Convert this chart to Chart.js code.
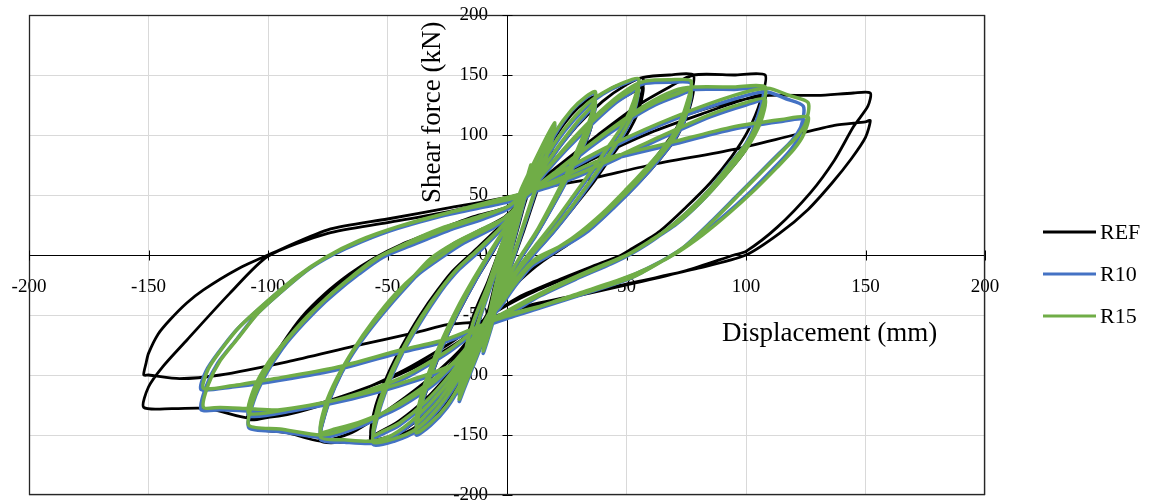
<!DOCTYPE html>
<html>
<head>
<meta charset="utf-8">
<script src="https://cdn.jsdelivr.net/npm/chart.js@4/dist/chart.umd.min.js"></script>
<style>
  html, body { margin: 0; padding: 0; background: #fff; }
  canvas { display: block; }
</style>
</head>
<body>
<canvas id="hysteresis-chart" width="1149" height="502"></canvas>
<script>
// series names + tick values
const seriesNames = ['REF', 'R10', 'R15'];
const dispTicks = [-200, -150, -100, -50, 0, 50, 100, 150, 200];
const forceTicks = [-200, -150, -100, -50, 0, 50, 100, 150, 200];

const refCurve = [
  [0,0],[3,22],[5,35],
  [3,15],[0,-8],[-3,-22],[-5,-35],
  [-2,-8],[2,18],[5,40],[8,55],[10,65],
  [8,48],[5,25],[1,-3],[-3,-30],[-6,-50],[-10,-70],
  [-7,-45],[-3,-12],[2,22],[6,45],[10,60],
  [7,40],[3,12],[0,-12],[-4,-38],[-7,-55],[-10,-65],
  [-7,-40],[-3,-8],[2,28],[6,52],[12,75],[17,92],[20,100],
  [17,78],[12,50],[7,20],[2,-8],[-3,-35],[-8,-58],[-14,-85],[-18,-102],[-20,-110],
  [-17,-85],[-12,-52],[-6,-18],[0,15],[5,42],[10,65],[15,83],[20,95],
  [16,72],[11,45],[6,16],[1,-12],[-5,-44],[-10,-62],[-15,-85],[-20,-105],
  [-18,-80],[-14,-50],[-8,-22],[-2,10],[4,38],[8,52],[14,76],[20,98],[27,117],[33,128],[37,132],
  [35,110],[31,90],[26,68],[20,45],[13,20],[6,-2],[0,-22],[-5,-40],[-10,-55],[-14,-80],[-19,-103],[-25,-123],[-31,-137],[-37,-145],
  [-35,-122],[-31,-98],[-26,-72],[-20,-47],[-13,-21],[-6,2],[0,24],[5,40],[8,52],[15,70],[22,90],[29,107],[34,119],[37,125],
  [35,105],[31,85],[25,62],[19,40],[12,16],[5,-5],[-1,-25],[-6,-43],[-10,-55],[-15,-76],[-21,-98],[-27,-117],[-33,-131],[-37,-138],
  [-35,-116],[-31,-92],[-26,-68],[-20,-44],[-13,-19],[-6,4],[0,25],[5,40],[8,52],[15,78],[24,104],[33,124],[42,137],[50,144],[57,147],
  [55,126],[50,106],[43,85],[35,62],[27,40],[19,20],[11,2],[4,-15],[-3,-38],[-10,-55],[-15,-80],[-22,-106],[-30,-128],[-38,-143],[-47,-152],[-57,-155],
  [-55,-132],[-51,-108],[-46,-85],[-39,-60],[-31,-35],[-23,-14],[-14,3],[-5,20],[3,36],[8,52],[16,70],[26,92],[36,112],[46,128],[53,136],[57,140],
  [55,120],[50,100],[43,80],[36,60],[28,40],[19,18],[11,0],[4,-18],[-3,-38],[-10,-55],[-16,-76],[-24,-98],[-34,-120],[-45,-138],[-52,-146],[-57,-150],
  [-55,-126],[-50,-100],[-44,-76],[-37,-52],[-29,-29],[-21,-10],[-12,6],[-3,24],[4,38],[8,52],[17,78],[28,105],[40,128],[50,142],[57,148],[68,150],[78,150],
  [76,128],[71,106],[64,86],[56,66],[47,45],[36,25],[25,8],[15,-5],[6,-20],[-3,-40],[-10,-55],[-16,-82],[-25,-110],[-35,-133],[-45,-148],[-57,-155],[-68,-156],[-78,-155],
  [-76,-132],[-72,-110],[-66,-86],[-58,-62],[-49,-40],[-40,-20],[-32,-4],[-22,10],[-10,22],[0,33],[8,52],[20,70],[35,95],[50,115],[63,130],[73,137],[78,140],
  [76,120],[71,98],[64,80],[56,62],[46,42],[35,22],[23,6],[13,-4],[4,-20],[-3,-40],[-10,-55],[-18,-78],[-30,-103],[-45,-125],[-60,-140],[-72,-147],[-78,-150],
  [-76,-127],[-71,-104],[-64,-80],[-56,-57],[-47,-35],[-37,-15],[-28,-2],[-18,11],[-6,24],[2,37],[8,52],[20,72],[38,100],[55,125],[68,140],[78,150],[95,150],[108,150],
  [106,128],[101,104],[94,82],[85,60],[75,40],[64,20],[52,5],[45,-3],[30,-15],[12,-30],[0,-42],[-10,-55],[-20,-80],[-35,-107],[-52,-132],[-65,-148],[-78,-155],[-92,-148],[-108,-143],
  [-106,-120],[-101,-97],[-94,-74],[-86,-52],[-76,-32],[-66,-16],[-56,-3],[-44,9],[-30,20],[-14,32],[0,40],[8,52],[20,62],[36,80],[60,102],[85,120],[100,130],[108,133],
  [106,112],[100,88],[92,68],[81,45],[70,25],[58,10],[48,0],[35,-10],[20,-22],[5,-35],[-3,-45],[-10,-55],[-20,-72],[-40,-95],[-65,-115],[-90,-130],[-108,-137],
  [-106,-115],[-100,-92],[-93,-72],[-84,-50],[-74,-30],[-63,-14],[-52,0],[-40,10],[-25,22],[-10,33],[0,40],[8,52],[25,72],[45,92],[65,110],[85,123],[100,130],[110,133],[130,133],[145,135],[152,135],
  [151,124],[145,107],[137,79],[127,52],[113,23],[100,3],[95,0],[75,-13],[50,-25],[25,-36],[5,-45],[-10,-55],[-25,-75],[-45,-98],[-70,-120],[-92,-133],[-108,-136],[-125,-128],[-140,-128],[-152,-127],
  [-150,-110],[-144,-93],[-134,-71],[-116,-32],[-100,-1],[-75,18],[-50,27],[-25,36],[0,47],[8,52],[20,58],[34,63],[60,75],[95,88],[120,100],[137,108],[150,111],[152,112],
  [150,98],[144,80],[136,60],[126,38],[114,18],[100,0],[80,-11],[55,-22],[30,-33],[5,-44],[-10,-55],[-25,-58],[-37,-64],[-64,-76],[-92,-89],[-120,-100],[-137,-103],[-150,-100],[-152,-100],
  [-151,-90],[-150,-82],[-146,-66],[-141,-54],[-134,-40],[-127,-29],[-113,-12],[-100,0],[-75,21],[-50,30],[-25,39],[0,48],[8,52]
];

const r10Curve = [
  [0,0],[3,24],[5,38],
  [3,18],[0,-6],[-3,-26],[-5,-41],
  [-2,-12],[2,18],[5,43],[8,60],[10,73],
  [8,53],[5,28],[1,-2],[-3,-32],[-6,-57],[-10,-82],
  [-7,-52],[-3,-17],[2,23],[6,48],[10,68],
  [7,43],[3,13],[0,-12],[-4,-42],[-7,-62],[-10,-77],
  [-7,-47],[-3,-12],[2,28],[6,53],[12,78],[17,98],[20,108],
  [17,83],[12,53],[7,23],[2,-7],[-3,-37],[-8,-62],[-14,-92],[-18,-112],[-20,-122],
  [-17,-92],[-12,-57],[-6,-22],[0,13],[5,43],[10,68],[15,88],[20,103],
  [16,78],[11,48],[6,18],[1,-12],[-5,-47],[-10,-67],[-15,-92],[-20,-117],
  [-18,-87],[-14,-57],[-8,-27],[-2,8],[4,38],[8,53],[14,78],[20,100],[27,120],[33,131],[37,135],
  [35,113],[31,93],[26,70],[20,46],[13,20],[6,-2],[0,-22],[-5,-42],[-10,-60],[-14,-84],[-19,-107],[-25,-127],[-32,-142],[-38,-150],
  [-36,-127],[-32,-102],[-27,-76],[-21,-50],[-14,-24],[-7,0],[0,22],[5,38],[8,50],[15,70],[22,90],[29,108],[34,119],[37,126],
  [35,106],[31,86],[25,62],[19,40],[12,16],[5,-5],[-1,-27],[-6,-47],[-10,-60],[-15,-80],[-21,-102],[-28,-122],[-34,-135],[-38,-142],
  [-36,-120],[-32,-96],[-27,-72],[-21,-47],[-14,-22],[-7,1],[0,23],[5,38],[8,50],[15,76],[24,103],[33,123],[40,134],[48,142],[55,146],
  [53,126],[49,108],[43,90],[36,70],[28,48],[20,26],[12,6],[5,-12],[-2,-34],[-6,-48],[-10,-60],[-15,-84],[-22,-110],[-30,-132],[-38,-147],[-47,-155],[-56,-158],
  [-54,-134],[-50,-110],[-45,-87],[-38,-62],[-30,-37],[-22,-16],[-13,1],[-4,18],[3,34],[8,48],[16,68],[25,88],[35,108],[45,126],[51,134],[55,138],
  [53,118],[48,98],[42,80],[35,60],[27,38],[19,18],[11,0],[4,-17],[-3,-40],[-10,-60],[-16,-80],[-24,-102],[-34,-124],[-45,-142],[-52,-149],[-56,-152],
  [-54,-128],[-49,-102],[-43,-78],[-36,-54],[-28,-31],[-20,-12],[-11,4],[-2,22],[4,36],[8,48],[18,73],[30,100],[42,123],[52,138],[58,143],[68,144],[77,143],
  [75,123],[71,103],[65,86],[58,70],[50,53],[40,33],[28,13],[18,0],[10,-10],[3,-27],[-3,-44],[-10,-60],[-17,-87],[-27,-114],[-38,-137],[-48,-152],[-56,-157],[-68,-156],[-78,-154],
  [-76,-132],[-72,-110],[-66,-87],[-58,-64],[-49,-42],[-40,-22],[-32,-5],[-22,8],[-10,20],[0,30],[8,48],[20,66],[35,90],[50,111],[62,125],[72,133],[77,136],
  [75,116],[70,96],[63,78],[55,60],[45,40],[34,20],[22,5],[12,-5],[4,-22],[-3,-42],[-10,-60],[-18,-82],[-30,-107],[-45,-127],[-60,-140],[-72,-147],[-78,-149],
  [-76,-127],[-71,-104],[-64,-80],[-56,-57],[-47,-35],[-37,-16],[-28,-3],[-18,10],[-6,22],[2,34],[8,48],[22,70],[40,98],[58,123],[70,135],[78,138],[95,138],[107,138],
  [105,116],[100,93],[92,73],[84,53],[74,33],[63,15],[52,1],[44,-7],[29,-20],[14,-34],[2,-48],[-10,-60],[-20,-87],[-35,-112],[-55,-137],[-70,-149],[-78,-152],[-95,-147],[-108,-144],
  [-106,-122],[-101,-100],[-94,-78],[-85,-57],[-75,-37],[-65,-20],[-55,-5],[-42,8],[-28,20],[-12,30],[0,38],[8,50],[20,58],[34,69],[60,93],[85,115],[100,125],[107,128],
  [105,108],[99,86],[91,66],[81,44],[71,26],[59,10],[49,-2],[37,-12],[21,-26],[7,-40],[-2,-51],[-10,-60],[-20,-90],[-40,-106],[-65,-120],[-90,-130],[-108,-134],
  [-106,-114],[-100,-92],[-92,-72],[-83,-52],[-72,-32],[-62,-16],[-52,-2],[-40,8],[-25,20],[-10,30],[0,38],[8,50],[25,70],[45,91],[70,113],[95,130],[108,136],[117,130],[124,124],
  [123,107],[119,95],[114,85],[106,69],[96,49],[85,27],[73,5],[63,-7],[51,-20],[33,-32],[14,-44],[0,-52],[-10,-60],[-25,-82],[-45,-105],[-70,-122],[-95,-131],[-108,-130],[-120,-129],[-128,-129],
  [-126,-110],[-121,-90],[-113,-70],[-105,-50],[-94,-30],[-83,-12],[-73,0],[-61,11],[-46,22],[-26,33],[-8,42],[0,46],[8,50],[20,60],[39,77],[67,91],[95,105],[114,111],[124,113],
  [122,98],[118,86],[111,71],[102,53],[91,33],[80,15],[70,1],[58,-12],[46,-22],[28,-34],[11,-46],[0,-53],[-10,-60],[-25,-72],[-44,-81],[-72,-96],[-100,-106],[-115,-110],[-128,-112],
  [-126,-97],[-121,-82],[-113,-62],[-101,-40],[-89,-20],[-77,-4],[-63,10],[-46,22],[-26,33],[0,44],[8,48]
];

const r15Curve = [
  [0,0],[3,25],[5,40],
  [3,20],[0,-5],[-3,-25],[-5,-40],
  [-2,-10],[2,20],[5,45],[8,62],[10,75],
  [8,55],[5,30],[1,0],[-3,-30],[-6,-55],[-10,-80],
  [-7,-50],[-3,-15],[2,25],[6,50],[10,70],
  [7,45],[3,15],[0,-10],[-4,-40],[-7,-60],[-10,-75],
  [-7,-45],[-3,-10],[2,30],[6,55],[12,80],[17,100],[20,110],
  [17,85],[12,55],[7,25],[2,-5],[-3,-35],[-8,-60],[-14,-90],[-18,-110],[-20,-120],
  [-17,-90],[-12,-55],[-6,-20],[0,15],[5,45],[10,70],[15,90],[20,105],
  [16,80],[11,50],[6,20],[1,-10],[-5,-45],[-10,-65],[-15,-90],[-20,-115],
  [-18,-85],[-14,-55],[-8,-25],[-2,10],[4,40],[8,55],[14,80],[20,102],[27,121],[33,132],[37,136],
  [35,115],[31,95],[26,72],[20,48],[13,22],[6,0],[0,-20],[-5,-40],[-10,-58],[-14,-82],[-19,-105],[-25,-125],[-32,-140],[-38,-148],
  [-36,-125],[-32,-100],[-27,-74],[-21,-48],[-14,-22],[-7,2],[0,24],[5,40],[8,52],[15,72],[22,92],[29,110],[34,121],[37,128],
  [35,108],[31,88],[25,64],[19,42],[12,18],[5,-3],[-1,-25],[-6,-45],[-10,-58],[-15,-78],[-21,-100],[-28,-120],[-34,-133],[-38,-140],
  [-36,-118],[-32,-94],[-27,-70],[-21,-45],[-14,-20],[-7,3],[0,25],[5,40],[8,52],[15,78],[24,105],[33,125],[40,135],[48,143],[55,147],
  [53,128],[49,110],[43,92],[36,72],[28,50],[20,28],[12,8],[5,-10],[-2,-32],[-6,-46],[-10,-58],[-15,-82],[-22,-108],[-30,-130],[-38,-145],[-47,-153],[-56,-156],
  [-54,-132],[-50,-108],[-45,-85],[-38,-60],[-30,-35],[-22,-14],[-13,3],[-4,20],[3,36],[8,50],[16,70],[25,90],[35,110],[45,128],[51,136],[55,140],
  [53,120],[48,100],[42,82],[35,62],[27,40],[19,20],[11,2],[4,-15],[-3,-38],[-10,-58],[-16,-78],[-24,-100],[-34,-122],[-45,-140],[-52,-147],[-56,-150],
  [-54,-126],[-49,-100],[-43,-76],[-36,-52],[-28,-29],[-20,-10],[-11,6],[-2,24],[4,38],[8,50],[18,75],[30,102],[42,125],[52,140],[58,145],[68,146],[77,145],
  [75,125],[71,105],[65,88],[58,72],[50,55],[40,35],[28,15],[18,2],[10,-8],[3,-25],[-3,-42],[-10,-58],[-17,-85],[-27,-112],[-38,-135],[-48,-150],[-56,-155],[-68,-154],[-78,-152],
  [-76,-130],[-72,-108],[-66,-85],[-58,-62],[-49,-40],[-40,-20],[-32,-3],[-22,10],[-10,22],[0,32],[8,50],[20,68],[35,92],[50,113],[62,127],[72,135],[77,138],
  [75,118],[70,98],[63,80],[55,62],[45,42],[34,22],[22,7],[12,-3],[4,-20],[-3,-40],[-10,-58],[-18,-80],[-30,-105],[-45,-125],[-60,-138],[-72,-145],[-78,-147],
  [-76,-125],[-71,-102],[-64,-78],[-56,-55],[-47,-33],[-37,-14],[-28,-1],[-18,12],[-6,24],[2,36],[8,50],[22,72],[40,100],[58,125],[70,137],[78,140],[95,140],[108,140],
  [106,118],[101,95],[93,75],[85,55],[75,35],[64,17],[53,3],[45,-5],[30,-18],[15,-32],[2,-46],[-10,-58],[-20,-85],[-35,-110],[-55,-135],[-70,-147],[-78,-150],[-95,-145],[-108,-142],
  [-106,-120],[-101,-98],[-94,-76],[-85,-55],[-75,-35],[-65,-18],[-55,-3],[-42,10],[-28,22],[-12,32],[0,40],[8,52],[20,60],[34,71],[60,95],[85,117],[100,127],[108,130],
  [106,110],[100,88],[92,68],[82,46],[72,28],[60,12],[50,0],[38,-10],[22,-24],[8,-38],[-2,-49],[-10,-58],[-20,-88],[-40,-104],[-65,-118],[-90,-128],[-108,-132],
  [-106,-112],[-100,-90],[-92,-70],[-83,-50],[-72,-30],[-62,-14],[-52,0],[-40,10],[-25,22],[-10,32],[0,40],[8,52],[25,72],[45,93],[70,115],[95,133],[109,139],[118,133],[126,127],
  [125,110],[121,98],[116,88],[108,72],[98,52],[87,30],[75,8],[65,-5],[53,-18],[35,-30],[15,-42],[0,-50],[-10,-58],[-25,-80],[-45,-103],[-70,-120],[-95,-129],[-108,-128],[-120,-127],[-127,-127],
  [-125,-108],[-120,-88],[-112,-68],[-104,-48],[-93,-28],[-82,-10],[-72,2],[-60,13],[-45,24],[-25,35],[-8,44],[0,48],[8,52],[20,62],[39,79],[67,93],[95,107],[115,113],[126,115],
  [124,100],[120,88],[113,73],[104,55],[93,35],[82,17],[72,3],[60,-10],[48,-20],[30,-32],[12,-44],[0,-51],[-10,-58],[-25,-70],[-44,-79],[-72,-94],[-100,-104],[-115,-109],[-127,-111],
  [-125,-95],[-120,-80],[-112,-60],[-100,-38],[-88,-18],[-76,-2],[-62,12],[-45,24],[-25,35],[0,46],[8,50]
];

const seriesColors = ['#000000', '#4472C4', '#70AD47'];
const serifFont = "'Liberation Serif', 'Times New Roman', serif";

const toPoints = (curve) => curve.map(p => ({ x: p[0], y: p[1] }));

// axes sit inside the plot, so they should not eat into the layout
const noLayoutSpace = (scale) => {
  if (scale.isHorizontal()) scale.height = 0; else scale.width = 0;
  scale.paddingTop = 0;
  scale.paddingBottom = 0;
  scale.paddingLeft = 0;
  scale.paddingRight = 0;
};

// plot frame, cross ticks, axis titles and legend
const framePlugin = {
  id: 'frame',
  beforeDatasetsDraw(chart) {
    const { ctx, chartArea: a, scales: { x, y } } = chart;
    ctx.save();
    ctx.strokeStyle = '#262626';
    ctx.lineWidth = 1.3;
    ctx.strokeRect(a.left + 0.5, a.top + 0.5, a.right - a.left - 1, a.bottom - a.top - 1);

    const x0 = Math.round(x.getPixelForValue(0)) + 0.5;
    const y0 = Math.round(y.getPixelForValue(0)) + 0.5;
    ctx.strokeStyle = '#000';
    ctx.lineWidth = 1;
    ctx.beginPath();
    dispTicks.forEach(v => {
      const px = Math.round(x.getPixelForValue(v)) + 0.5;
      ctx.moveTo(px, y0 - 5);
      ctx.lineTo(px, y0 + 5);
    });
    forceTicks.forEach(v => {
      const py = Math.round(y.getPixelForValue(v)) + 0.5;
      ctx.moveTo(x0 - 5, py);
      ctx.lineTo(x0 + 5, py);
    });
    ctx.stroke();
    ctx.restore();
  },
  afterDraw(chart) {
    const { ctx, chartArea: a, scales: { x, y } } = chart;
    ctx.save();
    ctx.fillStyle = '#000';
    ctx.font = '27px ' + serifFont;
    ctx.textAlign = 'center';
    ctx.textBaseline = 'middle';
    ctx.fillText('Displacement (mm)', x.getPixelForValue(135), y.getPixelForValue(-66));

    ctx.translate(x.getPixelForValue(-31), y.getPixelForValue(119));
    ctx.rotate(-Math.PI / 2);
    ctx.fillText('Shear force (kN)', 0, 0);
    ctx.restore();

    // legend
    ctx.save();
    ctx.font = '22px ' + serifFont;
    ctx.textAlign = 'left';
    ctx.textBaseline = 'middle';
    seriesNames.forEach((name, i) => {
      const ly = 232 + i * 42;
      ctx.strokeStyle = seriesColors[i];
      ctx.lineWidth = 3;
      ctx.beginPath();
      ctx.moveTo(a.right + 58, ly);
      ctx.lineTo(a.right + 111, ly);
      ctx.stroke();
      ctx.fillStyle = '#000';
      ctx.fillText(name, a.right + 115, ly + 1);
    });
    ctx.restore();
  }
};

const setUpChart = () => {
  const ctx = document.getElementById('hysteresis-chart');

  new Chart(ctx, {
    type: 'scatter',
    data: {
      datasets: [
        { label: 'REF', data: toPoints(refCurve), borderColor: seriesColors[0], borderWidth: 2.8, order: 3 },
        { label: 'R10', data: toPoints(r10Curve), borderColor: seriesColors[1], borderWidth: 3.5, order: 2 },
        { label: 'R15', data: toPoints(r15Curve), borderColor: seriesColors[2], borderWidth: 3.5, order: 1 }
      ].map(ds => Object.assign(ds, {
        showLine: true,
        pointRadius: 0,
        tension: 0.25,
        borderJoinStyle: 'round',
        fill: false
      }))
    },
    options: {
      responsive: false,
      animation: false,
      layout: { padding: { left: 29, top: 15, right: 164, bottom: 7 } },
      plugins: {
        legend: { display: false },
        tooltip: { enabled: false }
      },
      scales: {
        x: {
          type: 'linear',
          min: -200,
          max: 200,
          position: { y: 0 },
          afterBuildTicks: (scale) => { scale.ticks = dispTicks.map(v => ({ value: v })); },
          afterFit: noLayoutSpace,
          grid: { color: '#d9d9d9', drawTicks: false },
          border: { color: '#000', width: 1 },
          ticks: { color: '#000', padding: 21, maxRotation: 0, font: { family: serifFont, size: 19 } }
        },
        y: {
          type: 'linear',
          min: -200,
          max: 200,
          position: { x: 0 },
          afterBuildTicks: (scale) => { scale.ticks = forceTicks.map(v => ({ value: v })); },
          afterFit: noLayoutSpace,
          grid: { color: '#d9d9d9', drawTicks: false },
          border: { color: '#000', width: 1 },
          // labels are right-aligned on the axis line itself, so pad them with spaces
          ticks: { color: '#000', font: { family: serifFont, size: 19 }, callback: (v) => v + '    ' }
        }
      }
    },
    plugins: [framePlugin]
  });
};

window.onload = () => {
  setUpChart();
};
</script>
</body>
</html>
